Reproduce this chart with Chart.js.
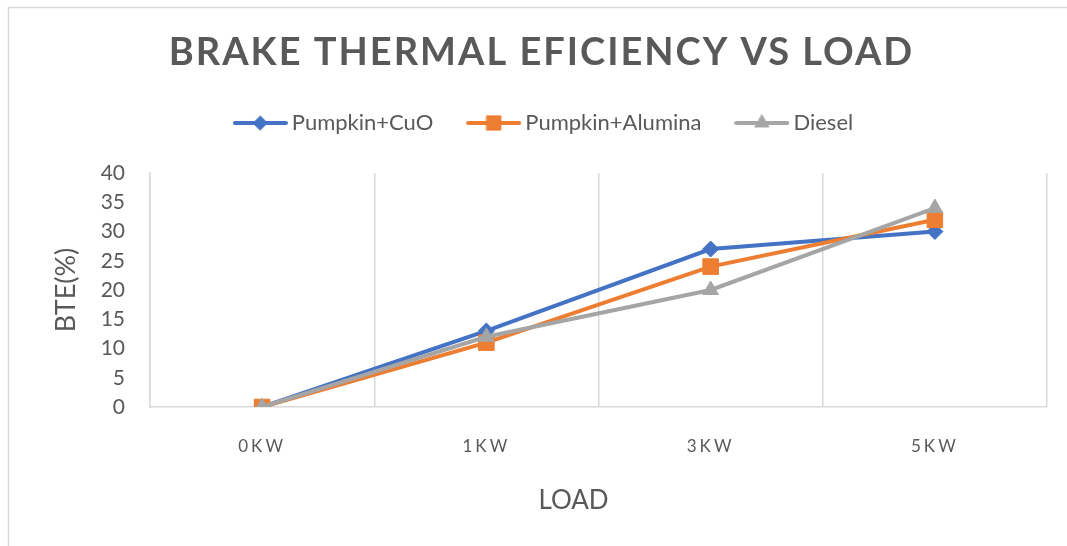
<!DOCTYPE html>
<html>
<head>
<meta charset="utf-8">
<script src="https://cdn.jsdelivr.net/npm/chart.js@4.4.1/dist/chart.umd.min.js"></script>
<style>
  html, body { margin: 0; padding: 0; background: #fff; }
  #wrap { position: relative; width: 1067px; height: 546px; }
</style>
</head>
<body>
<div id="wrap"><canvas id="bteChart"></canvas></div>
<script>
// data
const loads = ['0KW', '1KW', '3KW', '5KW'];
const cuoBte = [0, 13, 27, 30];
const aluminaBte = [0, 11, 24, 32];
const dieselBte = [0, 12, 20, 34];
const yMin = 0, yMax = 40, yStep = 5;

const blue = '#4472C4', orange = '#ED7D31', grey = '#A5A5A5';
const textGrey = '#595959', lineGrey = '#D9D9D9';
const fontFam = 'Lato, "Open Sans", sans-serif';

// little line + marker pictures for the legend, like excel
function legendIcon(color, style, radius) {
    const c = document.createElement('canvas');
    c.width = 55; c.height = 22;
    const g = c.getContext('2d');
    g.strokeStyle = color;
    g.lineWidth = 4;
    g.lineCap = 'round';
    g.beginPath();
    g.moveTo(2, 11);
    g.lineTo(53, 11);
    g.stroke();
    g.fillStyle = color;
    g.lineWidth = 1;
    Chart.helpers.drawPoint(g, {pointStyle: style, radius: radius, rotation: 0, borderWidth: 1}, 27.5, 11);
    return c;
}
const icons = [
    legendIcon(blue, 'rectRot', 7),
    legendIcon(orange, 'rect', 10),
    legendIcon(grey, 'triangle', 8)
];

// outer frame + some small tweaks (letter spacing, offsets)
const framePlugin = {
    id: 'frame',
    beforeDraw(chart) {
        const ctx = chart.ctx;
        ctx.save();
        ctx.fillStyle = '#fff';
        ctx.fillRect(0, 0, chart.width, chart.height);
        ctx.strokeStyle = lineGrey;
        ctx.lineWidth = 1.5;
        ctx.beginPath();
        ctx.moveTo(8.5, chart.height + 5);
        ctx.lineTo(8.5, 7.5);
        ctx.lineTo(chart.width + 5, 7.5);
        ctx.stroke();
        ctx.restore();

        if (chart.titleBlock && !chart.titleBlock._patched) {
            const tb = chart.titleBlock;
            const drawTitle = tb.draw.bind(tb);
            tb.draw = function () {
                ctx.save();
                ctx.letterSpacing = '2px';
                ctx.translate(8, 0);
                drawTitle();
                ctx.restore();
            };
            tb._patched = true;
        }
        if (chart.legend && !chart.legend._patched) {
            const lg = chart.legend;
            const drawLegend = lg.draw.bind(lg);
            lg.draw = function () {
                ctx.save();
                ctx.translate(13, 0);
                drawLegend();
                ctx.restore();
            };
            lg._patched = true;
        }
        const xs = chart.scales.x;
        if (xs && !xs._patched) {
            const drawLabels = xs.drawLabels.bind(xs);
            xs.drawLabels = function (area) {
                ctx.save();
                ctx.letterSpacing = '3px';
                drawLabels(area);
                ctx.restore();
            };
            const drawAxisTitle = xs.drawTitle.bind(xs);
            xs.drawTitle = function () {
                ctx.save();
                ctx.translate(-25, 0);
                drawAxisTitle();
                ctx.restore();
            };
            xs._patched = true;
        }
    }
};

const ctx = document.getElementById('bteChart').getContext('2d');
const bteChart = new Chart(ctx, {
    type: 'line',
    data: {
        labels: loads,
        datasets: [{
            label: 'Pumpkin+CuO',
            data: cuoBte,
            borderColor: blue,
            backgroundColor: blue,
            pointStyle: 'rectRot',
            pointRadius: 8,
            order: 2
        }, {
            label: 'Pumpkin+Alumina',
            data: aluminaBte,
            borderColor: orange,
            backgroundColor: orange,
            pointStyle: 'rect',
            pointRadius: 11,
            order: 1
        }, {
            label: 'Diesel',
            data: dieselBte,
            borderColor: grey,
            backgroundColor: grey,
            pointStyle: 'triangle',
            pointRadius: 9,
            order: 0
        }]
    },
    options: {
        responsive: true,
        maintainAspectRatio: false,
        animation: false,
        devicePixelRatio: 1,
        elements: {
            line: { borderWidth: 4, tension: 0 },
            point: { borderWidth: 1, hoverRadius: 9 }
        },
        layout: { padding: { left: 20, right: 20, top: 0, bottom: 0 } },
        plugins: {
            tooltip: { enabled: false },
            title: {
                display: true,
                text: 'BRAKE THERMAL EFICIENCY VS LOAD',
                color: textGrey,
                font: { family: fontFam, size: 38, weight: 'bold', lineHeight: 1.0 },
                padding: { top: 34, bottom: 0 }
            },
            subtitle: {
                // just an empty gap between legend and plot
                display: true,
                text: '',
                weight: 500,
                font: { size: 10, lineHeight: 1.2 },
                padding: { top: 17, bottom: 0 }
            },
            legend: {
                position: 'top',
                labels: {
                    color: textGrey,
                    font: { family: fontFam, size: 22 },
                    usePointStyle: true,
                    pointStyleWidth: 41,
                    padding: 40,
                    sort: (a, b) => a.datasetIndex - b.datasetIndex,
                    generateLabels(chart) {
                        const items = Chart.defaults.plugins.legend.labels.generateLabels(chart);
                        items.forEach(it => { it.pointStyle = icons[it.datasetIndex]; });
                        return items;
                    }
                }
            }
        },
        scales: {
            x: {
                offset: true,
                grid: { display: true, offset: true, color: lineGrey, lineWidth: 1.5, drawTicks: false },
                border: { display: true, color: lineGrey, width: 1.5 },
                ticks: { color: textGrey, font: { family: fontFam, size: 17 }, padding: 29 },
                title: {
                    display: true,
                    text: 'LOAD',
                    color: textGrey,
                    font: { family: fontFam, size: 26 },
                    padding: { top: 0, bottom: 30 }
                },
                afterFit(scale) { scale.height = 139; }
            },
            y: {
                min: yMin,
                max: yMax,
                ticks: { stepSize: yStep, color: textGrey, font: { family: fontFam, size: 21 }, padding: 25 },
                grid: { display: false, drawTicks: false },
                border: { display: true, color: lineGrey, width: 1.5 },
                title: {
                    display: true,
                    text: 'BTE(%)',
                    color: textGrey,
                    font: { family: fontFam, size: 27 },
                    padding: { top: 30, bottom: 0 }
                },
                afterFit(scale) { scale.width = 130; }
            }
        }
    },
    plugins: [framePlugin]
});
</script>
</body>
</html>
